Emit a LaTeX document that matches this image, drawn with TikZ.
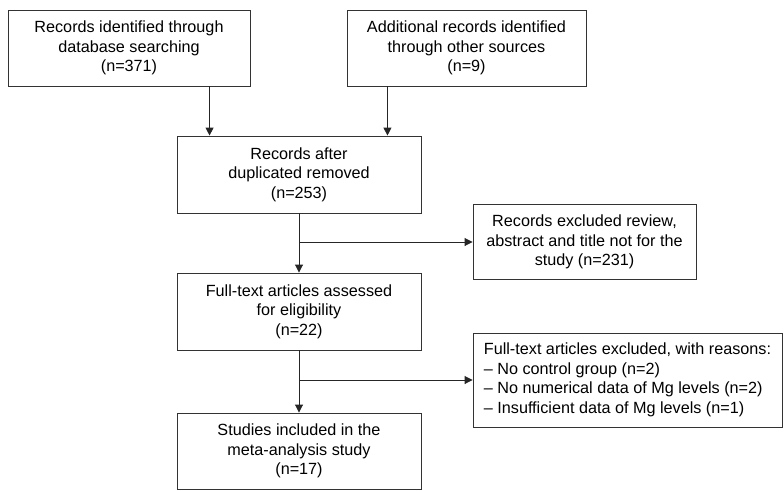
\documentclass[tikz,border=0pt]{standalone}
\usepackage{fontspec}
\setmainfont{Liberation Sans}
\usetikzlibrary{arrows.meta,positioning,calc}

\tikzset{
  box/.style={draw=black!80,line width=0.9pt,rectangle,align=center,inner sep=2pt,
    font=\fontsize{16.2}{19.5}\selectfont},
  arr/.style={-{Triangle[length=8pt,width=8pt]},line width=0.9pt,draw=black!85}
}

\begin{document}
\begin{tikzpicture}[x=1pt,y=-1pt,>=Latex]
  \useasboundingbox (0,0) rectangle (784,490);
  \node[box,minimum width=242,minimum height=76] (ident) at (129,48)
    {Records identified through\\database searching\\(n=371)};
  \node[box,minimum width=239,minimum height=76] (other) at (466.5,48)
    {Additional records identified\\through other sources\\(n=9)};
  \node[box,minimum width=244,minimum height=77] (dupl) at (299,174.5)
    {Records after\\duplicated removed\\(n=253)};
  \node[box,minimum width=223,minimum height=75] (excl) at (584.5,242)
    {Records excluded review,\\abstract and title not for the\\study (n=231)};
  \node[box,minimum width=244,minimum height=77] (full) at (299,311.5)
    {Full-text articles assessed\\for eligibility\\(n=22)};
  \node[box,minimum width=309,minimum height=94,align=left] (reasons) at (627.5,380)
    {Full-text articles excluded, with reasons:\\
     -- No control group (n=2)\\
     -- No numerical data of Mg levels (n=2)\\
     -- Insufficient data of Mg levels (n=1)};
  \node[box,minimum width=244,minimum height=76] (incl) at (299,451)
    {Studies included in the\\meta-analysis study\\(n=17)};

  % arrows into the duplicates box
  \coordinate (inL) at ($(dupl.north west)+(33,0)$);
  \coordinate (inR) at ($(dupl.north east)+(-34,0)$);
  \draw[arr] (ident.south -| inL) -- (inL);
  \draw[arr] (other.south -| inR) -- (inR);

  \draw[arr] (dupl) -- (full);
  \draw[arr] (dupl.south |- excl.west) -- (excl.west);
  \draw[arr] (full) -- (incl);
  \draw[arr] (full.south |- reasons.west) -- (reasons.west);
\end{tikzpicture}
\end{document}
